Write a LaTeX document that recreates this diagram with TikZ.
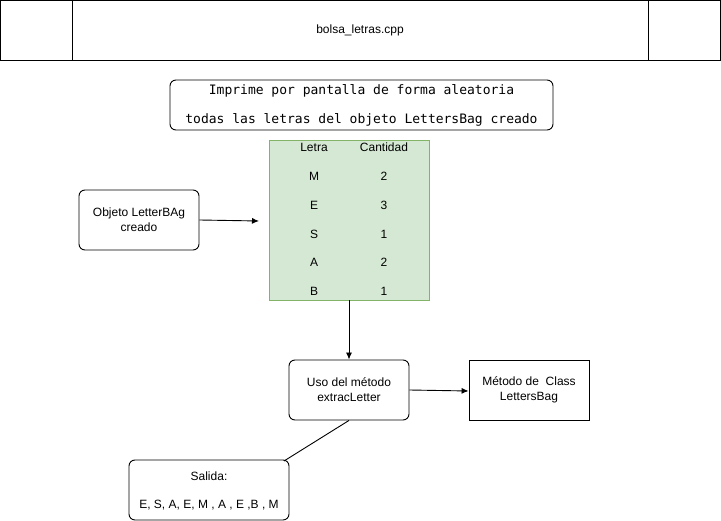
\documentclass[tikz,border=0pt]{standalone}
\usepackage{fontspec}
\setmainfont{Liberation Sans}
\setmonofont{DejaVu Sans Mono}
\usetikzlibrary{arrows.meta}
\definecolor{gfill}{HTML}{D5E8D4}
\definecolor{gline}{HTML}{82B366}
\begin{document}
\begin{tikzpicture}[x=1pt,y=-1pt,
  every node/.style={font=\fontsize{12}{14}\selectfont, inner sep=0pt},
  rbox/.style={draw, rounded corners=6pt, line width=0.9pt},
  sbox/.style={draw, line width=0.9pt},
  txt/.style={align=center, text=black},
  conn/.style={line width=0.9pt, -{Latex[length=7pt,width=6pt]}},
  plain/.style={line width=0.9pt}]
\useasboundingbox (0,0) rectangle (721,521);
% header
\draw[sbox] (0.5,0.5) rectangle (720,60);
\draw[plain] (72,0.5) -- (72,60);
\draw[plain] (648,0.5) -- (648,60);
\node[txt] (title) at (360,30) {bolsa\_letras.cpp};
% description box
\draw[rbox] (170,80) rectangle (553,130);
\node[txt, font=\ttfamily\fontsize{13}{15}\selectfont] (d1) at (361.5,91) {Imprime por pantalla de forma aleatoria};
\node[txt, font=\ttfamily\fontsize{13}{15}\selectfont] (d2) at (361.5,120) {todas las letras del objeto LettersBag creado};
% table
\node[draw=gline, fill=gfill, line width=0.9pt, minimum width=160pt, minimum height=160pt] (tab) at (349,220) {};
\node[txt] (h1) at (314,147) {Letra};
\node[txt] (h2) at (384,147) {Cantidad};
\foreach \l/\n/\y [count=\i] in {M/2/176, E/3/205, S/1/234, A/2/262, B/1/291} {
  \node[txt] (l\i) at (314,\y) {\l};
  \node[txt] (n\i) at (384,\y) {\n};
}
% objeto box
\node[rbox, minimum width=120pt, minimum height=60pt, txt] (obj) at (139,220) {Objeto LetterBAg\\[1pt]creado};
\coordinate (tin) at (259,221);
\draw[conn] (obj.east) -- (tin);
% uso box
\node[rbox, minimum width=120pt, minimum height=60pt, txt] (uso) at (349,390) {Uso del método\\[1pt]extracLetter};
\draw[conn] (tab.south) -- (uso.north);
% metodo box
\node[sbox, minimum width=120pt, minimum height=60pt, txt] (met) at (529,390) {Método de\ \ Class\\[1pt]LettersBag};
\draw[conn] (uso.east) -- (met.west |- 0,391);
% salida box
\node[rbox, minimum width=160pt, minimum height=60pt] (sal) at (209,490) {};
\node[txt] (s1) at (209,476) {Salida:};
\node[txt] (s2) at (209,505) {E, S, A, E, M , A , E ,B , M};
\coordinate (sc) at (284,461);
\draw[plain] (uso.south) -- (sc);
\end{tikzpicture}
\end{document}
